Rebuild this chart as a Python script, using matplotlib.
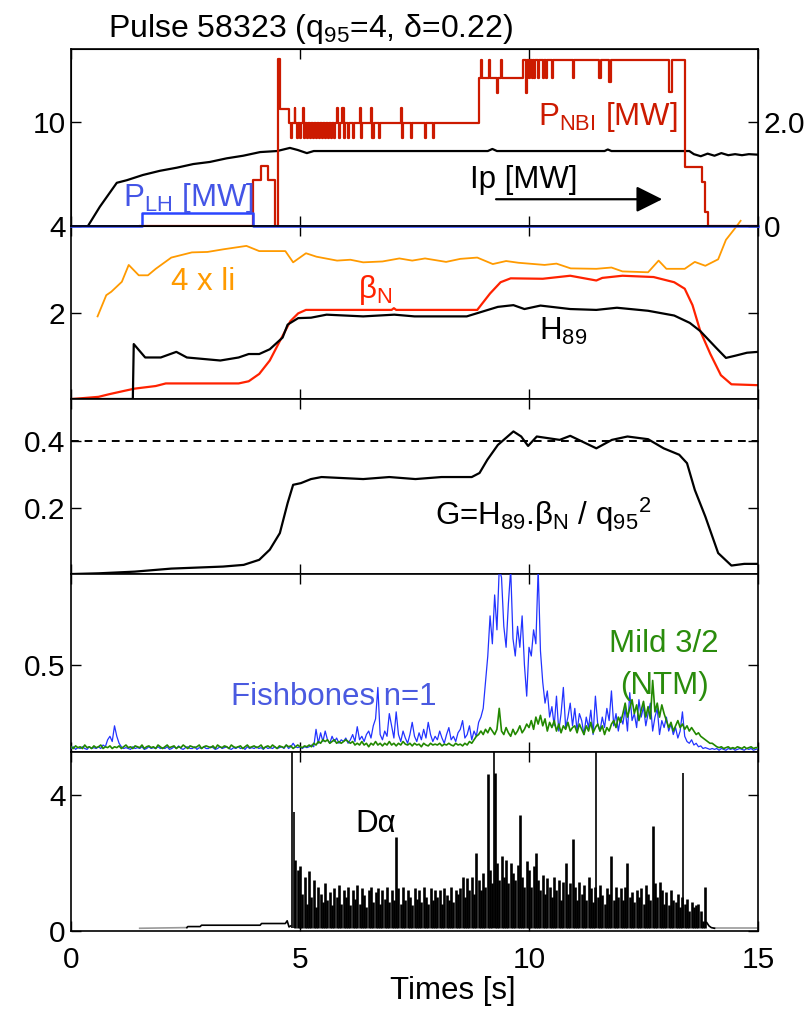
import numpy as np
import matplotlib.pyplot as plt

plt.rcParams['font.family'] = ['Liberation Sans', 'DejaVu Sans']
plt.rcParams['mathtext.fontset'] = 'custom'
plt.rcParams['mathtext.rm'] = 'Liberation Sans'
plt.rcParams['mathtext.it'] = 'Liberation Sans:italic'
plt.rcParams['mathtext.default'] = 'rm'

# ---- panel 1: heating powers and plasma current
pnbi_t = [1.5, 3.97, 4.15, 4.3, 4.45, 4.52, 4.57, 4.75,
          4.80, 4.83, 4.88, 4.90, 4.93, 4.96, 5.00, 5.02, 5.06, 5.08, 5.11, 5.15,
          5.18, 5.22, 5.24, 5.28, 5.31, 5.35, 5.37, 5.41, 5.44, 5.47, 5.50, 5.54,
          5.57, 5.61, 5.63, 5.67, 5.70, 5.74, 5.76, 5.80, 5.83, 5.86, 5.88, 5.92,
          5.95, 5.98, 6.04, 6.07, 6.15, 6.18, 6.30, 6.33, 6.36, 6.55, 6.58, 6.61,
          6.72, 6.75, 7.20, 7.22, 7.25, 7.42, 7.45, 7.73, 7.76, 7.90, 7.93,
          8.90, 8.95, 8.98, 9.12, 9.15, 9.30, 9.33, 9.38, 9.41, 9.87, 9.93, 9.96,
          10.00, 10.02, 10.06, 10.08, 10.12, 10.14, 10.20, 10.22, 10.30, 10.32,
          10.38, 10.40, 10.50, 10.53, 10.95, 10.98, 11.53, 11.58, 11.75, 11.78,
          13.05, 13.12, 13.40, 13.77, 13.84, 13.91, 15.0]
pnbi_v = [0, 4.4, 5.8, 4.4, 0, 16.0, 11.2, 9.9,
          8.5, 9.9, 11.3, 9.9, 8.5, 9.9, 8.5, 9.9, 11.3, 8.5, 9.9, 8.5,
          9.9, 8.5, 9.9, 8.5, 9.9, 8.5, 9.9, 8.5, 9.9, 8.5, 9.9, 8.5,
          9.9, 8.5, 9.9, 8.5, 9.9, 8.5, 9.9, 11.3, 9.9, 8.5, 9.9, 11.3,
          8.5, 9.9, 8.5, 9.9, 8.5, 9.9, 11.3, 8.5, 9.9, 11.3, 8.5, 9.9,
          8.5, 9.9, 11.3, 8.5, 9.9, 8.5, 9.9, 8.5, 9.9, 8.5, 9.9,
          14.2, 15.9, 14.2, 15.9, 14.2, 12.8, 14.2, 15.9, 14.2, 15.9, 12.8, 15.9,
          14.2, 15.9, 14.2, 15.9, 14.2, 15.9, 14.2, 15.9, 14.2, 15.9,
          14.2, 15.9, 14.2, 15.9, 14.2, 15.9, 14.2, 15.9, 13.8, 15.9,
          12.9, 15.9, 5.7, 4.2, 1.35, 0, 0]
plh_t = [0, 1.55, 3.97, 15.0]
plh_v = [0, 1.25, 0, 0]
ip_t = [0.37, 0.63, 1.0, 1.22, 1.57, 1.94, 2.31, 2.67, 3.03, 3.4, 3.76, 4.13, 4.5,
        4.78, 4.95, 5.15, 5.3, 9.1, 9.2, 9.3, 11.65, 11.72, 11.8, 13.5, 13.6, 13.75,
        13.9, 14.05, 14.2, 14.35, 14.5, 14.65, 14.8, 15.0]
ip_v = [0, 0.37, 0.83, 0.88, 0.98, 1.06, 1.12, 1.19, 1.23, 1.30, 1.35, 1.42, 1.44,
        1.50, 1.46, 1.40, 1.44, 1.44, 1.48, 1.44, 1.44, 1.47, 1.44, 1.44, 1.38, 1.34,
        1.39, 1.35, 1.40, 1.36, 1.38, 1.36, 1.38, 1.37]

# ---- panel 2: 4 x li, beta_N, H89
li_t = [0.58, 0.77, 0.88, 1.11, 1.26, 1.48, 1.68, 1.85, 2.19, 2.64, 2.98, 3.32, 3.83,
        4.11, 4.68, 4.85, 5.13, 5.36, 5.81, 6.1, 6.38, 6.8, 7.17, 7.45, 7.73, 8.19,
        8.5, 8.87, 9.21, 9.5, 9.77, 10.34, 10.6, 10.91, 11.47, 11.8, 12.04, 12.6,
        12.83, 13.0, 13.4, 13.62, 13.85, 14.13, 14.3, 14.53, 14.62]
li_v = [1.91, 2.40, 2.48, 2.71, 3.10, 2.86, 2.86, 3.01, 3.27, 3.39, 3.40, 3.46, 3.54,
        3.42, 3.42, 3.16, 3.37, 3.29, 3.20, 3.22, 3.16, 3.18, 3.25, 3.20, 3.25, 3.17,
        3.24, 3.27, 3.12, 3.19, 3.15, 3.10, 3.13, 3.02, 3.01, 3.04, 2.95, 2.93,
        3.20, 3.01, 3.01, 3.17, 3.08, 3.23, 3.68, 3.99, 4.12]
bn_t = [0.03, 0.6, 0.83, 1.17, 1.39, 1.85, 2.07, 3.66, 3.88, 4.11, 4.34, 4.56, 4.79,
        4.96, 5.13, 7.0, 7.05, 7.1, 8.87, 9.15, 9.38, 9.6, 10.3, 10.9, 11.47, 11.6,
        12.04, 12.72, 13.17, 13.4, 13.57, 13.74, 13.96, 14.19, 14.42, 14.98]
bn_v = [0, 0.05, 0.11, 0.19, 0.24, 0.30, 0.36, 0.36, 0.41, 0.58, 0.89, 1.34, 1.80,
        1.98, 2.06, 2.06, 2.10, 2.06, 2.06, 2.44, 2.70, 2.79, 2.78, 2.85, 2.74, 2.80,
        2.85, 2.82, 2.70, 2.55, 2.17, 1.57, 1.04, 0.55, 0.34, 0.32]
h89_t = [0, 1.35, 1.37, 1.62, 1.96, 2.3, 2.53, 3.26, 3.66, 3.88, 4.11, 4.34, 4.62,
         4.73, 4.96, 5.24, 5.58, 6.38, 7.06, 7.5, 8.64, 8.98, 9.32, 9.66, 9.9, 10.25,
         10.9, 11.47, 11.92, 12.6, 13.17, 13.51, 13.74, 14.08, 14.3, 14.5, 14.76, 15.0]
h89_v = [0, 0, 1.27, 0.96, 0.96, 1.09, 0.96, 0.89, 0.96, 1.04, 1.04, 1.15, 1.42,
         1.72, 1.87, 1.88, 1.95, 1.91, 1.95, 1.91, 1.91, 2.02, 2.13, 2.17, 2.08, 2.16,
         2.08, 2.06, 2.11, 2.04, 1.93, 1.76, 1.57, 1.19, 0.95, 1.00, 1.07, 1.09]

# ---- panel 3: G factor
g_t = [0.03, 0.6, 1.39, 2.19, 3.32, 3.77, 4.11, 4.34, 4.56, 4.73, 4.85, 5.02, 5.24,
       5.47, 6.38, 6.95, 7.52, 8.09, 8.75, 8.92, 9.09, 9.32, 9.66, 9.83, 9.98, 10.17,
       10.67, 10.9, 11.47, 11.81, 12.15, 12.6, 12.94, 13.28, 13.45, 13.62, 13.85,
       14.13, 14.42, 14.7, 15.0]
g_v = [0.005, 0.007, 0.012, 0.021, 0.027, 0.032, 0.047, 0.077, 0.126, 0.215, 0.269,
       0.274, 0.286, 0.292, 0.286, 0.292, 0.286, 0.292, 0.292, 0.304, 0.343, 0.387,
       0.427, 0.412, 0.384, 0.412, 0.402, 0.414, 0.377, 0.402, 0.412, 0.404, 0.377,
       0.358, 0.333, 0.254, 0.175, 0.067, 0.030, 0.035, 0.035]
g_ref = 0.4

# ---- panel 4: MHD amplitudes, sampled every 0.05 s from 0 to 15 s
fish = [0.02, 0.03, 0.015, 0.025, 0.02, 0.03, 0.02, 0.015, 0.03, 0.02, 0.025, 0.02, 0.03, 0.02, 0.04, 0.03, 0.07, 0.09, 0.06, 0.15,
        0.09, 0.05, 0.03, 0.02, 0.025, 0.02, 0.015, 0.03, 0.02, 0.025, 0.02, 0.03, 0.015, 0.02, 0.03, 0.02, 0.025, 0.02, 0.03, 0.02,
        0.025, 0.02, 0.03, 0.015, 0.02, 0.03, 0.02, 0.035, 0.02, 0.015, 0.025, 0.03, 0.02, 0.02, 0.03, 0.015, 0.025, 0.02, 0.03, 0.02,
        0.02, 0.03, 0.025, 0.015, 0.02, 0.03, 0.02, 0.025, 0.03, 0.02, 0.015, 0.025, 0.02, 0.03, 0.02, 0.025, 0.015, 0.03, 0.02, 0.025,
        0.02, 0.03, 0.02, 0.025, 0.015, 0.03, 0.02, 0.025, 0.02, 0.03, 0.02, 0.025, 0.03, 0.02, 0.04, 0.02, 0.03, 0.05, 0.03, 0.025,
        0.03, 0.02, 0.03, 0.025, 0.03, 0.04, 0.03, 0.13, 0.05, 0.11, 0.06, 0.12, 0.07, 0.05, 0.09, 0.06, 0.08, 0.05, 0.07, 0.06,
        0.08, 0.05, 0.07, 0.1, 0.06, 0.145, 0.07, 0.09, 0.06, 0.1, 0.12, 0.08, 0.15, 0.19, 0.37, 0.1, 0.07, 0.12, 0.09, 0.22,
        0.15, 0.08, 0.23, 0.1, 0.06, 0.12, 0.08, 0.05, 0.1, 0.17, 0.09, 0.06, 0.11, 0.07, 0.13, 0.08, 0.17, 0.1, 0.06, 0.09,
        0.07, 0.12, 0.08, 0.05, 0.1, 0.14, 0.07, 0.09, 0.06, 0.11, 0.13, 0.18, 0.08, 0.1, 0.15, 0.07, 0.12, 0.09, 0.17, 0.2,
        0.25, 0.4, 0.55, 0.78, 0.62, 0.9, 0.7, 1.05, 1.0, 0.72, 0.6, 0.85, 1.05, 0.65, 0.55, 0.72, 0.6, 0.78, 0.5, 0.32,
        0.6, 0.55, 0.7, 0.62, 1.05, 0.58, 0.4, 0.28, 0.35, 0.2, 0.26, 0.15, 0.32, 0.12, 0.22, 0.37, 0.14, 0.2, 0.28, 0.15,
        0.25, 0.12, 0.22, 0.18, 0.1, 0.2, 0.14, 0.24, 0.1, 0.32, 0.16, 0.12, 0.2, 0.14, 0.25, 0.18, 0.35, 0.15, 0.22, 0.12,
        0.2, 0.16, 0.25, 0.12, 0.34, 0.18, 0.22, 0.14, 0.3, 0.2, 0.26, 0.15, 0.22, 0.28, 0.12, 0.2, 0.25, 0.1, 0.18, 0.14,
        0.2, 0.12, 0.16, 0.1, 0.14, 0.08, 0.12, 0.23, 0.09, 0.06, 0.05, 0.07, 0.04, 0.05, 0.03, 0.035, 0.02, 0.025, 0.02, 0.015,
        0.02, 0.015, 0.02, 0.01, 0.02, 0.015, 0.01, 0.02, 0.015, 0.02, 0.01, 0.015, 0.02, 0.015, 0.01, 0.02, 0.015, 0.02, 0.01, 0.015,
        0.02]
ntm = [0.03, 0.02, 0.035, 0.025, 0.03, 0.02, 0.04, 0.025, 0.03, 0.02, 0.035, 0.025, 0.03, 0.04, 0.02, 0.03, 0.025, 0.035, 0.02, 0.03,
       0.025, 0.035, 0.02, 0.03, 0.04, 0.025, 0.03, 0.02, 0.035, 0.03, 0.025, 0.04, 0.02, 0.03, 0.035, 0.025, 0.03, 0.02, 0.04, 0.03,
       0.02, 0.03, 0.04, 0.025, 0.03, 0.035, 0.02, 0.03, 0.025, 0.04, 0.03, 0.02, 0.035, 0.03, 0.025, 0.03, 0.04, 0.02, 0.03, 0.035,
       0.03, 0.025, 0.035, 0.02, 0.04, 0.03, 0.025, 0.035, 0.03, 0.02, 0.04, 0.03, 0.025, 0.03, 0.035, 0.02, 0.03, 0.04, 0.025, 0.03,
       0.035, 0.025, 0.03, 0.04, 0.02, 0.03, 0.035, 0.025, 0.04, 0.03, 0.02, 0.035, 0.03, 0.025, 0.04, 0.03, 0.035, 0.02, 0.03, 0.04,
       0.03, 0.025, 0.035, 0.03, 0.04, 0.03, 0.05, 0.04, 0.06, 0.05, 0.07, 0.06, 0.07, 0.05, 0.06, 0.07, 0.05, 0.06, 0.05, 0.06,
       0.07, 0.06, 0.05, 0.06, 0.04, 0.05, 0.04, 0.06, 0.04, 0.05, 0.03, 0.05, 0.04, 0.06, 0.04, 0.05, 0.035, 0.05, 0.04, 0.06,
       0.04, 0.05, 0.035, 0.05, 0.04, 0.06, 0.045, 0.04, 0.05, 0.035, 0.05, 0.04, 0.045, 0.03, 0.05, 0.04, 0.035, 0.05, 0.04, 0.045,
       0.04, 0.05, 0.035, 0.045, 0.04, 0.05, 0.04, 0.035, 0.05, 0.04, 0.045, 0.035, 0.05, 0.04, 0.06, 0.05, 0.07, 0.09, 0.1, 0.12,
       0.1, 0.13, 0.11, 0.14, 0.12, 0.1, 0.13, 0.25, 0.12, 0.1, 0.14, 0.11, 0.09, 0.13, 0.1, 0.12, 0.15, 0.11, 0.13, 0.16,
       0.14, 0.18, 0.13, 0.2, 0.16, 0.21, 0.15, 0.19, 0.12, 0.17, 0.14, 0.18, 0.12, 0.16, 0.11, 0.15, 0.13, 0.17, 0.12, 0.14,
       0.15, 0.11, 0.16, 0.13, 0.1, 0.15, 0.12, 0.17, 0.11, 0.14, 0.16, 0.12, 0.15, 0.1, 0.14, 0.12, 0.16, 0.18, 0.14, 0.2,
       0.17, 0.22, 0.28, 0.2, 0.25, 0.3, 0.22, 0.27, 0.18, 0.24, 0.29, 0.2, 0.26, 0.19, 0.41, 0.23, 0.28, 0.2, 0.27, 0.22,
       0.18, 0.14, 0.17, 0.12, 0.15, 0.18, 0.14, 0.16, 0.13, 0.15, 0.12, 0.14, 0.12, 0.1, 0.11, 0.09, 0.08, 0.07, 0.06, 0.05,
       0.05, 0.04, 0.03, 0.025, 0.03, 0.02, 0.025, 0.03, 0.02, 0.025, 0.02, 0.03, 0.025, 0.02, 0.03, 0.02, 0.025, 0.03, 0.02, 0.025,
       0.025]

# ---- panel 5: D-alpha (ELM peaks every 0.05 s from 4.90 s)
elm = [2.1, 1.8,
       1.9, 1.1, 1.6, 0.8, 1.75, 1.0, 1.5, 0.7, 1.3, 1.1, 0.85, 1.4, 0.9, 1.15, 0.75, 1.25, 1.0, 1.35, 0.8, 1.2,
       1.0, 1.3, 0.75, 1.2, 0.95, 1.35, 0.8, 1.25, 1.05, 0.7, 1.2, 1.3, 0.85, 1.15, 1.25, 0.8, 1.2, 0.95, 1.3, 0.85,
       1.2, 0.9, 2.75, 1.25, 0.8, 1.3, 0.9, 1.2, 1.0, 0.75, 1.25, 0.95, 1.2, 0.85, 1.3, 1.0, 0.8, 1.25, 0.9, 1.2,
       1.0, 1.2, 0.8, 1.25, 1.05, 0.9, 1.3, 0.85, 1.2, 1.1, 1.25, 1.6, 1.0, 1.55, 1.2, 1.6, 1.1, 2.3, 1.5, 1.2,
       1.7, 1.3, 4.6, 1.8, 1.4, 4.65, 2.0, 1.5, 2.2, 1.6, 2.1, 1.4, 2.0, 1.7, 1.5, 1.95, 3.4, 1.6, 1.3, 2.05,
       1.8, 1.3, 1.9, 2.3, 1.5, 1.2, 1.65, 1.1, 1.55, 1.3, 1.0, 1.6, 1.2, 1.5, 0.9, 1.45, 2.0, 1.1, 1.4, 2.7,
       1.3, 0.9, 1.45, 1.1, 1.35, 0.9, 1.6, 1.25, 0.85, 1.3, 1.0, 1.35, 1.05, 0.8, 1.25, 1.1, 2.2, 0.9, 1.3, 1.0,
       1.25, 0.9, 1.3, 2.0, 1.0, 1.15, 0.85, 1.2, 1.0, 1.25, 0.8, 1.35, 1.1, 0.9, 3.1, 1.4, 1.0, 1.45, 1.2, 0.8,
       1.15, 0.75, 1.2, 0.9, 0.85, 1.1, 0.7, 1.0, 0.8, 0.95, 0.6, 0.85, 0.7, 0.75, 0.8, 0.6, 0.3, 1.3]
big_t = [4.82, 4.86, 9.24, 11.47, 13.37]
big_v = [5.3, 3.5, 5.3, 5.3, 4.65]
da_pre_t = [2.53, 2.55, 2.82, 2.85, 4.13, 4.16, 4.68, 4.72, 4.76, 4.80]
da_pre_v = [0.10, 0.13, 0.13, 0.17, 0.17, 0.22, 0.22, 0.30, 0.12, 0.15]
da_post_t = [13.88, 13.93, 13.98, 14.05]
da_post_v = [0.25, 0.15, 0.10, 0.08]
da_gray_t = [[1.5, 2.53], [14.05, 15.0]]
da_gray_v = [[0.08, 0.10], [0.08, 0.08]]

W, H = 808, 1009
TICK = 21.5
TXT = 22.5


def box(top, bot):
    return [71 / W, 1 - bot / H, 687 / W, (bot - top) / H]


def style(ax, yticks, ylim, right=True):
    ax.set_xlim(0, 15)
    ax.set_ylim(*ylim)
    ax.set_xticks([0, 5, 10, 15])
    ax.set_yticks(yticks)
    ax.tick_params(direction='in', length=7, width=1, top=True, right=right,
                   labelsize=TICK, pad=4)
    ax.tick_params(axis='x', labelbottom=False, pad=11)
    for s in ax.spines.values():
        s.set_linewidth(1.2)


fig = plt.figure(figsize=(W / 100, H / 100), dpi=100)
ax1 = fig.add_axes(box(49, 226))
ax2 = fig.add_axes(box(226, 399))
ax3 = fig.add_axes(box(399, 574))
ax4 = fig.add_axes(box(574, 752))
ax5 = fig.add_axes(box(752, 931))

# panel 1
ax1r = ax1.twinx()
ax1.set_zorder(ax1r.get_zorder() + 1)
ax1.patch.set_visible(False)
ax1r.plot(ip_t, ip_v, color='black', lw=1.6)
ax1r.set_ylim(0, 3.40)
ax1r.set_yticks([0, 2.0])
ax1r.set_yticklabels(['0', '2.0'])
ax1r.tick_params(direction='in', length=7, width=1, labelsize=TICK, pad=4)
ax1.step(pnbi_t, pnbi_v, where='post', color='#cc1a00', lw=1.6)
ax1.step(plh_t, plh_v, where='post', color='#2b45ff', lw=1.8, clip_on=False)
style(ax1, [10], (0, 17.0), right=False)
ax1.text(1.14, 1.9, 'P$_{\\rm LH}$ [MW]', color='#4455e6', fontsize=TXT, va='baseline')
ax1.text(10.2, 9.7, 'P$_{\\rm NBI}$ [MW]', color='#cc1a00', fontsize=TXT, va='baseline')
ax1.text(8.71, 3.65, 'Ip [MW]', color='black', fontsize=TXT, va='baseline')
ax1.annotate('', xy=(12.97, 2.57), xytext=(9.22, 2.57),
             arrowprops=dict(arrowstyle='-|>,head_length=0.8,head_width=0.4',
                             color='black', lw=1.6, mutation_scale=20))

# panel 2
ax2.plot(li_t, li_v, color='#ff9a00', lw=1.3, clip_on=False)
ax2.plot(bn_t, bn_v, color='#ff2200', lw=1.6)
ax2.plot(h89_t, h89_v, color='black', lw=1.6)
style(ax2, [2, 4], (0, 4.0))
ax2.text(2.18, 2.52, '4 x li', color='#ff9a00', fontsize=TXT, va='baseline')
ax2.text(6.27, 2.34, 'β$_{\\rm N}$', color='#ff2200', fontsize=TXT, va='baseline')
ax2.text(10.22, 1.36, 'H$_{89}$', color='black', fontsize=TXT, va='baseline')

# panel 3
ax3.plot(g_t, g_v, color='black', lw=1.6)
ax3.axhline(g_ref, color='black', lw=1.4, ls=(0, (4, 3)))
style(ax3, [0.2, 0.4], (0.005, 0.523))
ax3.text(7.95, 0.15, 'G=H$_{89}$.β$_{\\rm N}$ / q$_{95}$$^{2}$', color='black',
         fontsize=TXT, va='baseline')

# panel 4
mhd_t = np.arange(len(fish)) * 0.05
ax4.plot(mhd_t, fish, color='#2233ff', lw=0.9, zorder=3)
ax4.plot(mhd_t, ntm, color='#228800', lw=1.2, zorder=3)
style(ax4, [0.5], (0, 1.02))
ax4.text(3.49, 0.27, 'Fishbones n=1', color='#4a5ae0', fontsize=TXT, va='baseline', zorder=1)
ax4.text(12.95, 0.575, 'Mild 3/2', color='#2a8c0c', fontsize=TXT, va='baseline', ha='center')
ax4.text(12.95, 0.33, '(NTM)', color='#2a8c0c', fontsize=TXT, va='baseline', ha='center')

# panel 5
elm_t = 4.90 + np.arange(len(elm)) * 0.05
for gt, gv in zip(da_gray_t, da_gray_v):
    ax5.plot(gt, gv, color='#999999', lw=1.2)
ax5.plot(da_pre_t, da_pre_v, color='black', lw=1.2)
ax5.plot(da_post_t, da_post_v, color='black', lw=1.2)
ax5.vlines(elm_t, 0.08, elm, colors='black', lw=1.9)
ax5.vlines(big_t, 0.08, big_v, colors='black', lw=1.2)
style(ax5, [0, 4], (0, 5.26))
ax5.tick_params(axis='x', labelbottom=True)
ax5.text(6.2, 2.9, 'Dα', color='black', fontsize=TXT, va='baseline')

fig.text(108 / W, 1 - 37 / H, 'Pulse 58323 (q$_{95}$=4, δ=0.22)', fontsize=23,
         ha='left', va='baseline')
fig.text(453 / W, 1 - 991 / H, 'Times [s]', fontsize=TXT, ha='center', va='center')

fig.savefig('out.png', dpi=100)
